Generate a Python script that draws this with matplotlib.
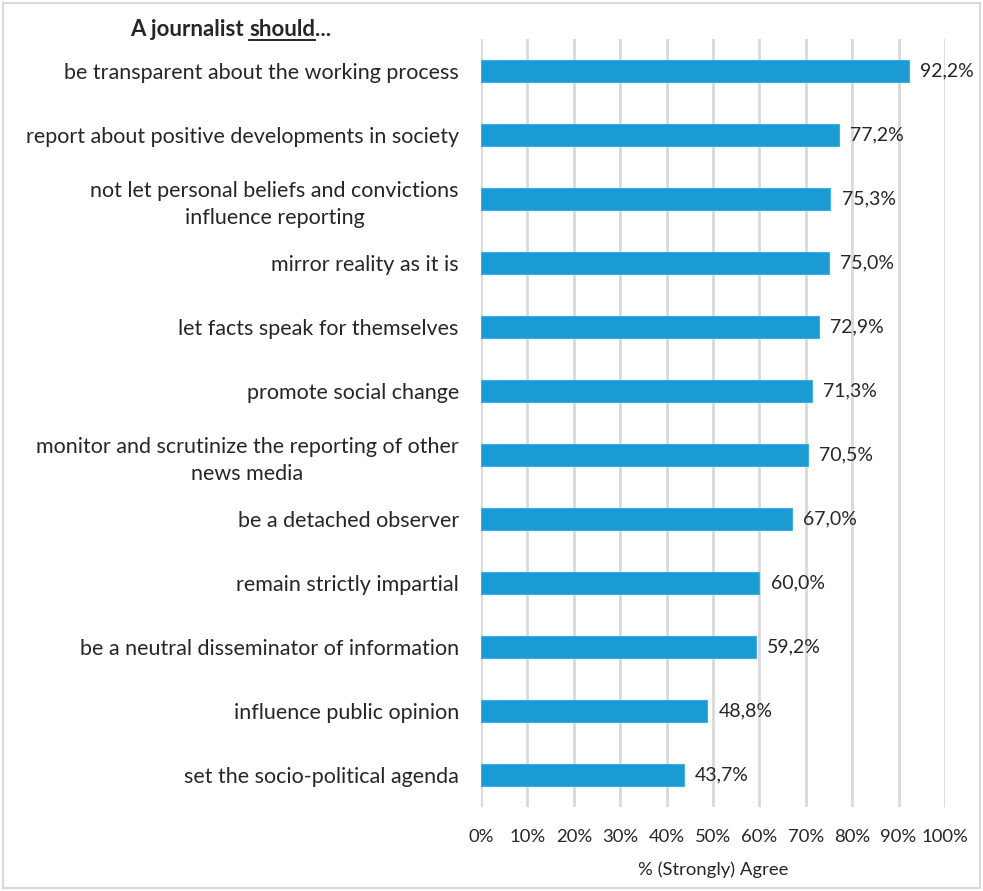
import matplotlib
matplotlib.use("Agg")
import matplotlib.pyplot as plt
from matplotlib.patches import Rectangle

plt.rcParams['font.family'] = ['Lato', 'DejaVu Sans']

categories = [
    "be transparent about the working process",
    "report about positive developments in society",
    "not let personal beliefs and convictions\ninfluence reporting",
    "mirror reality as it is",
    "let facts speak for themselves",
    "promote social change",
    "monitor and scrutinize the reporting of other\nnews media",
    "be a detached observer",
    "remain strictly impartial",
    "be a neutral disseminator of information",
    "influence public opinion",
    "set the socio-political agenda",
]
values = [92.2, 77.2, 75.3, 75.0, 72.9, 71.3, 70.5, 67.0, 60.0, 59.2, 48.8, 43.7]
xticks = [0, 10, 20, 30, 40, 50, 60, 70, 80, 90, 100]
xlabel = "% (Strongly) Agree"

BAR = "#1A9BD3"
GRID = "#D9D9D9"
TEXT = "#262626"

W, H = 983, 891
fig = plt.figure(figsize=(W / 100, H / 100), dpi=100)
ax = fig.add_axes([481 / W, 1 - 807 / H, 464 / W, 768 / H])

n = len(categories)
ypos = list(range(n))
ax.barh(ypos, values, height=0.34, color=BAR, edgecolor="#3AAEE0", linewidth=0.8, zorder=3)
ax.set_ylim(n - 0.5, -0.5)
ax.set_xlim(0, 100)

ax.set_xticks(xticks)
ax.set_xticklabels([f"{t}%" for t in xticks], fontsize=13.3, color=TEXT)
ax.tick_params(axis='x', length=0, pad=16)
ax.set_yticks(ypos)
ax.set_yticklabels(categories, fontsize=15.5, color=TEXT)
ax.tick_params(axis='y', length=0, pad=16)
for lbl in ax.get_yticklabels():
    lbl.set_multialignment('center')
    lbl.set_linespacing(1.45)

ax.xaxis.grid(True, color=GRID, linewidth=2, zorder=0)
ax.set_axisbelow(True)
for s in ax.spines.values():
    s.set_visible(False)

ax.set_xlabel(xlabel, fontsize=13.3, color=TEXT, labelpad=12)

for y, v in zip(ypos, values):
    ax.annotate(f"{v:.1f}%".replace(".", ","), xy=(v, y), xytext=(8, 0),
                textcoords="offset points", va="center", ha="left",
                fontsize=14, color=TEXT)

# Title with underlined "should"
fig.canvas.draw()
renderer = fig.canvas.get_renderer()
tx, ty = 130 / W, 1 - 36 / H
parts = [("A journalist ", False), ("should", True), ("...", False)]
x = tx
for txt, underline in parts:
    t = fig.text(x, ty, txt, fontsize=16, fontweight='bold', color=TEXT,
                 va='baseline', ha='left')
    bb = t.get_window_extent(renderer)
    if underline:
        yline = ty - 3.5 / H
        fig.add_artist(plt.Line2D([bb.x0 / W, bb.x1 / W], [yline, yline],
                                  color=TEXT, linewidth=1.4))
    x = bb.x1 / W

# Outer frame
fig.add_artist(Rectangle((3 / W, 3 / H), (W - 6) / W, (H - 6) / H,
                         transform=fig.transFigure, fill=False,
                         edgecolor="#D9D9D9", linewidth=1.5))

fig.savefig("out.png", dpi=100)
